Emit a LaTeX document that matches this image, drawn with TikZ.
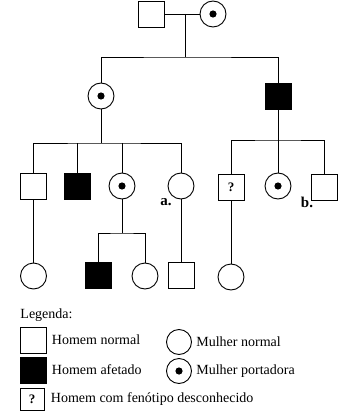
\documentclass[tikz,border=0pt]{standalone}
\usepackage{fontspec}
\setmainfont{Liberation Serif}
\usetikzlibrary{positioning}

\begin{document}
\begin{tikzpicture}[x=1pt, y=-1pt, line width=0.9pt,
  male/.style={draw, rectangle, minimum size=26pt, inner sep=0pt},
  affected/.style={male, fill=black},
  female/.style={draw, circle, minimum size=26pt, inner sep=0pt},
  carrier/.style={female, path picture={\fill (path picture bounding box.center) circle (3.6pt);}},
  unknown/.style={male, font=\bfseries\fontsize{13}{13}\selectfont},
  tag/.style={font=\bfseries\fontsize{15}{15}\selectfont, inner sep=0pt},
  legtext/.style={anchor=west, inner sep=0pt, font=\fontsize{14}{16}\selectfont}]
  \useasboundingbox (0,0) rectangle (341,417);

  % geracao I
  \node[male] (i1) at (151,14) {};
  \node[carrier] (i2) at (213,14) {};
  \draw (i1) -- (i2);
  \coordinate (m1) at (185,14);
  \coordinate (s1) at (185,57);
  \draw (m1) -- (s1);

  % geracao II
  \node[carrier] (ii1) at (101,96) {};
  \node[affected] (ii2) at (278,96) {};
  \draw (ii1) |- (s1) -| (ii2);

  % geracao III, filhos da mulher portadora
  \node[male] (iii1) at (33.5,186) {};
  \node[affected] (iii2) at (77,186) {};
  \node[carrier] (iii3) at (122,186) {};
  \node[female] (iii4) at (181,186) {};
  \coordinate (s2) at (101,143);
  \draw (ii1) -- (s2);
  \draw (iii1) |- (s2) -| (iii4);
  \draw (iii2) -- (iii2 |- s2);
  \draw (iii3) -- (iii3 |- s2);
  \node[tag] (la) at (166,202) {a.};

  % geracao III, filhos do homem afetado
  \node[unknown] (iii5) at (231,187) {?};
  \node[carrier] (iii6) at (278,186) {};
  \node[male] (iii7) at (324.5,187.5) {};
  \coordinate (s3) at (278,140);
  \draw (ii2) -- (iii6);
  \draw (iii5) |- (s3) -| (iii7);
  \node[tag] (lb) at (307,202) {b.};

  % geracao IV
  \node[female] (iv1) at (33.5,276) {};
  \node[affected] (iv2) at (98,275) {};
  \node[female] (iv3) at (145,276) {};
  \node[male] (iv4) at (181,275) {};
  \node[female] (iv5) at (231,277) {};
  \coordinate (s4) at (122,233);
  \draw (iii1) -- (iv1);
  \draw (iii3) -- (s4);
  \draw (iv2) |- (s4) -| (iv3);
  \draw (iii4) -- (iv4);
  \draw (iii5) -- (iv5);

  % legenda
  \node[legtext] (leg) at (20,315) {Legenda:};
  \node[male] (k1) at (33,340) {};
  \node[legtext, right=5pt of k1] {Homem normal};
  \node[female, minimum size=25pt] (k2) at (179,342) {};
  \node[legtext, right=4pt of k2] {Mulher normal};
  \node[affected] (k3) at (33,370) {};
  \node[legtext, right=5pt of k3] {Homem afetado};
  \node[carrier, minimum size=25pt] (k4) at (179,371) {};
  \node[legtext, right=4pt of k4] {Mulher portadora};
  \node[unknown, minimum width=24pt, minimum height=22pt] (k5) at (32,399) {?};
  \node[legtext, right=6pt of k5] {Homem com fenótipo desconhecido};
\end{tikzpicture}
\end{document}
